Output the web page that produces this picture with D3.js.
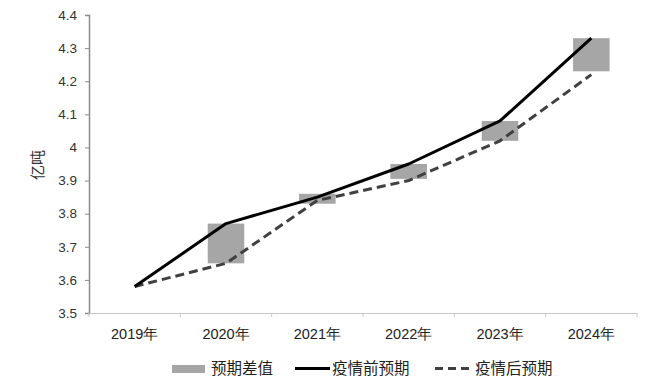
<!DOCTYPE html>
<html><head><meta charset="utf-8">
<script src="https://cdn.jsdelivr.net/npm/d3@7"></script>
<style>body{margin:0;background:#fff;} svg{display:block;font-family:"Noto Sans CJK SC","DejaVu Sans",sans-serif;}</style>
</head><body>
<svg id="c" width="670" height="380"></svg>
<script>
const years = ["2019年","2020年","2021年","2022年","2023年","2024年"];
const preForecast = [3.58, 3.77, 3.85, 3.95, 4.08, 4.33];
const postForecast = [3.58, 3.65, 3.84, 3.90, 4.02, 4.22];
const gapBase = [null, 3.65, 3.83, 3.905, 4.02, 4.23];
const gapValue = [null, 0.12, 0.03, 0.045, 0.06, 0.10];
const yTicks = [3.5,3.6,3.7,3.8,3.9,4,4.1,4.2,4.3,4.4];
const yLabel = "亿吨";
const legendNames = ["预期差值","疫情前预期","疫情后预期"];

const svg = d3.select("#c");
const m = {l:89, r:33, t:15, b:67};
const W = 670, H = 380;
const x = d3.scaleBand().domain(years).range([m.l, W-m.r]);
const y = d3.scaleLinear().domain([3.5,4.4]).range([H-m.b, m.t]);

// y axis
const ya = svg.append("g").attr("transform",`translate(${m.l},0)`)
  .call(d3.axisLeft(y).tickValues(yTicks).tickFormat(d=>d3.format("")(d)).tickSize(4).tickPadding(8));
ya.select(".domain").attr("stroke","#8a8a8a").attr("stroke-width",1.5);
ya.selectAll(".tick line").attr("stroke","#8a8a8a");
ya.selectAll("text").attr("font-size",13.5).attr("fill","#333").attr("font-family","'Liberation Sans','DejaVu Sans',sans-serif");

// x axis
const xa = svg.append("g").attr("transform",`translate(0,${H-m.b})`)
  .call(d3.axisBottom(x).tickSize(0).tickPadding(16));
xa.select(".domain").attr("stroke","#c8c8c8").attr("stroke-width",1.2);
xa.selectAll("text").attr("font-size",14.5).attr("fill","#222");
// tick marks at band edges
const edges = years.map(d=>x(d)).concat([x(years[years.length-1])+x.bandwidth()]);
svg.append("g").selectAll("line").data(edges).join("line")
  .attr("x1",d=>d).attr("x2",d=>d).attr("y1",H-m.b).attr("y2",H-m.b+4)
  .attr("stroke","#c8c8c8");

// y label
svg.append("text").attr("transform",`translate(43,165) rotate(-90)`)
  .attr("text-anchor","middle").attr("font-size",15).attr("fill","#333").text(yLabel);

// gap boxes
const bw = x.bandwidth()*0.4;
svg.append("g").selectAll("rect").data(years.map((d,i)=>({d,b:gapBase[i],v:gapValue[i]})).filter(o=>o.b!=null))
  .join("rect")
  .attr("x",o=>x(o.d)+x.bandwidth()/2-bw/2).attr("width",bw)
  .attr("y",o=>y(o.b+o.v)).attr("height",o=>y(o.b)-y(o.b+o.v))
  .attr("fill","#a6a6a6");

const cx = d=>x(d)+x.bandwidth()/2;
const line = d3.line().x((v,i)=>cx(years[i])).y(v=>y(v));
svg.append("path").attr("d",line(postForecast)).attr("fill","none")
  .attr("stroke","#404040").attr("stroke-width",3).attr("stroke-dasharray","9,5");
svg.append("path").attr("d",line(preForecast)).attr("fill","none")
  .attr("stroke","#000").attr("stroke-width",3).attr("stroke-linejoin","round");

// legend
const lg = svg.append("g").attr("font-size",15.5).attr("fill","#222");
lg.append("rect").attr("x",172).attr("y",365).attr("width",33).attr("height",8).attr("fill","#a6a6a6");
lg.append("text").attr("x",211).attr("y",374).text(legendNames[0]);
lg.append("line").attr("x1",295).attr("x2",330).attr("y1",368.5).attr("y2",368.5).attr("stroke","#000").attr("stroke-width",3);
lg.append("text").attr("x",332).attr("y",374).text(legendNames[1]);
lg.append("line").attr("x1",435).attr("x2",472).attr("y1",368.5).attr("y2",368.5).attr("stroke","#404040").attr("stroke-width",3).attr("stroke-dasharray","8,5");
lg.append("text").attr("x",475).attr("y",374).text(legendNames[2]);
</script>
</body></html>
